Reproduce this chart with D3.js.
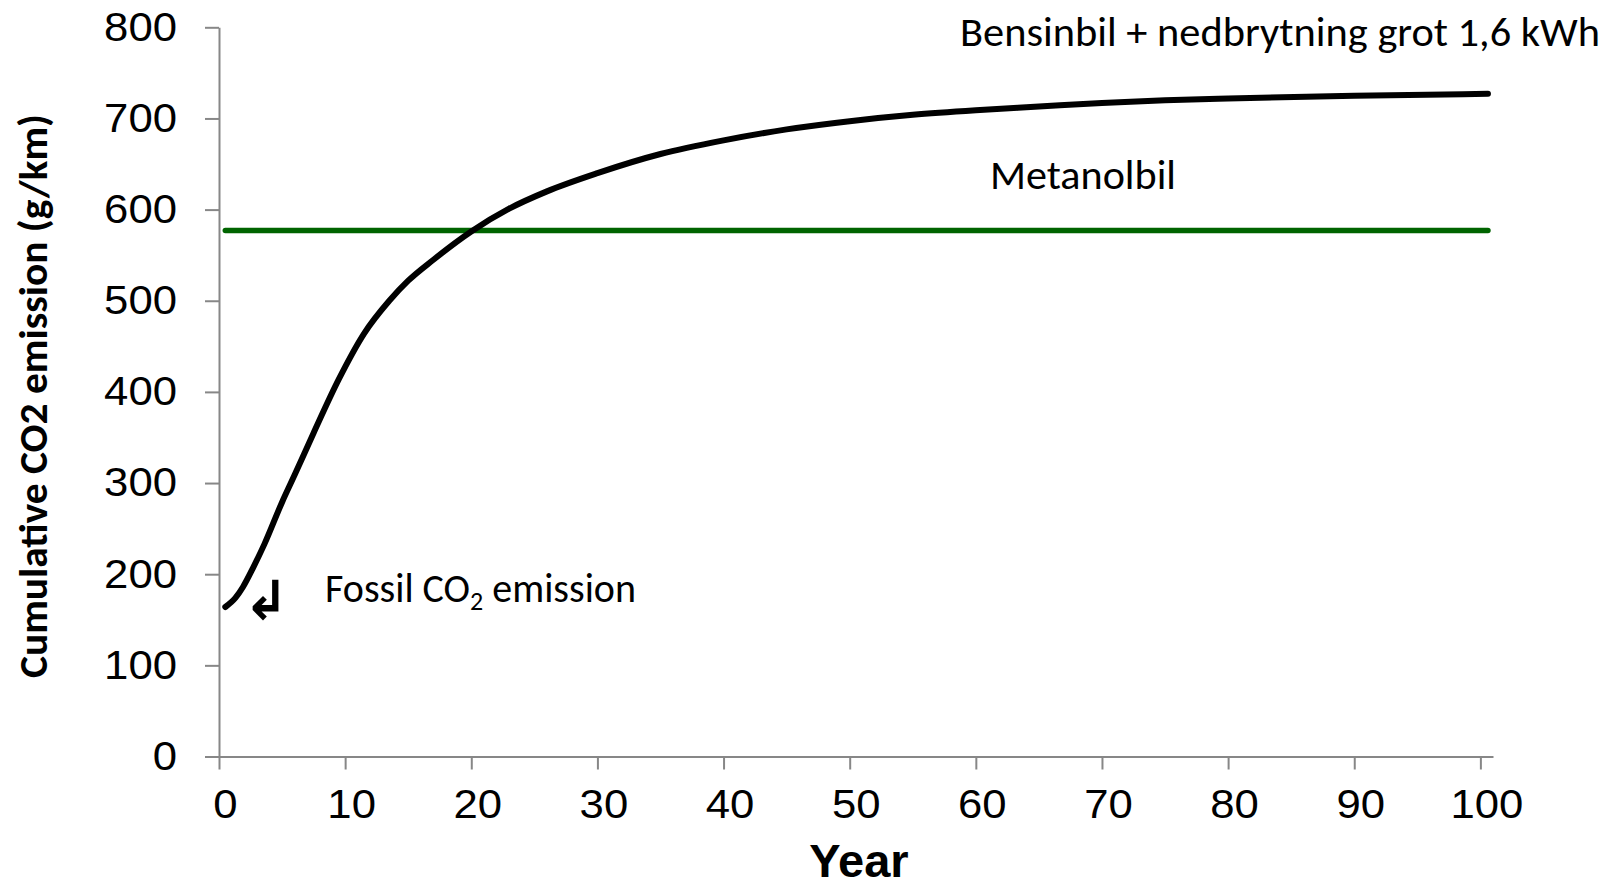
<!DOCTYPE html>
<html lang="sv">
<head>
  <meta charset="UTF-8" />
  <title>Cumulative CO2 emission</title>
  <style>
    body { margin: 0; padding: 0; background: #fff; }
    svg { display: block; }
    .tick text { font-family: "Liberation Sans", Arial, sans-serif; fill: #000; }
    .note { font-family: Carlito, Calibri, Lato, sans-serif; fill: #000; }
  </style>
  <script src="https://d3js.org/d3.v7.min.js"></script>
</head>
<body>
  <svg width="1613" height="886"></svg>

  <script>
    // years and cumulative emission (g/km) for the petrol car + decomposition curve
    const years = [0.5, 1.3, 1.9, 2.7, 3.6, 5, 6, 7.5, 9.5, 11.5, 13.5, 15, 17, 20, 23, 26, 30, 35, 40, 45, 50, 55, 60, 65, 70, 75, 80, 90, 100.6];
    const bensinbil = [164, 174, 186, 207, 233, 279, 309, 355, 414, 464, 500, 522, 545, 576, 601, 620, 640, 661, 676, 688, 697, 704, 709, 713, 717, 720, 722, 725, 727];
    // methanol car is constant
    const metanolYears = [0.5, 100.6];
    const metanolbil = [577, 577];

    const xTicks = [0, 10, 20, 30, 40, 50, 60, 70, 80, 90, 100];
    const yTicks = [0, 100, 200, 300, 400, 500, 600, 700, 800];

    const svg = d3.select("svg");
    const axisColor = "#878787";

    const x = d3.scaleLinear().domain([0, 101]).range([219, 1493]);
    const y = d3.scaleLinear().domain([0, 800]).range([756.5, 27.3]);

    const xAxis = svg.append("g")
      .attr("transform", `translate(0,${y(0)})`)
      .call(d3.axisBottom(x).tickValues(xTicks).tickSizeInner(13).tickSizeOuter(0).tickPadding(20));

    const yAxis = svg.append("g")
      .attr("transform", `translate(${x(0)},0)`)
      .call(d3.axisLeft(y).tickValues(yTicks).tickSizeInner(14).tickSizeOuter(0).tickPadding(28));

    [xAxis, yAxis].forEach(g => {
      g.select(".domain").attr("stroke", axisColor).attr("stroke-width", 2);
      g.selectAll(".tick line").attr("stroke", axisColor).attr("stroke-width", 2);
      g.selectAll(".tick text")
        .attr("font-size", 40)
        .attr("textLength", function () { return this.textContent.length * 24.3; })
        .attr("lengthAdjust", "spacingAndGlyphs");
    });
    // year labels sit a little right of their ticks in the original
    xAxis.selectAll(".tick text").attr("dx", 6);

    const line = d3.line()
      .x(d => x(d[0]))
      .y(d => y(d[1]))
      .curve(d3.curveMonotoneX);

    svg.append("path")
      .datum(metanolYears.map((yr, i) => [yr, metanolbil[i]]))
      .attr("d", line)
      .attr("fill", "none")
      .attr("stroke", "#006400")
      .attr("stroke-width", 5.5)
      .attr("stroke-linecap", "round");

    svg.append("path")
      .datum(years.map((yr, i) => [yr, bensinbil[i]]))
      .attr("d", line)
      .attr("fill", "none")
      .attr("stroke", "#000")
      .attr("stroke-width", 6)
      .attr("stroke-linecap", "round")
      .attr("stroke-linejoin", "round");

    // axis titles
    svg.append("text")
      .attr("x", 859)
      .attr("y", 877)
      .attr("text-anchor", "middle")
      .attr("font-family", "'Liberation Sans', Arial, sans-serif")
      .attr("font-weight", "bold")
      .attr("font-size", 47)
      .text("Year");

    svg.append("text")
      .attr("class", "note")
      .attr("transform", "translate(47,396) rotate(-90)")
      .attr("text-anchor", "middle")
      .attr("font-weight", "bold")
      .attr("font-size", 40)
      .attr("textLength", 564)
      .attr("lengthAdjust", "spacingAndGlyphs")
      .text("Cumulative CO2 emission (g/km)");

    // annotations
    svg.append("text")
      .attr("class", "note")
      .attr("x", 960).attr("y", 46)
      .attr("font-size", 40)
      .attr("textLength", 640)
      .attr("lengthAdjust", "spacingAndGlyphs")
      .text("Bensinbil + nedbrytning grot 1,6 kWh");

    svg.append("text")
      .attr("class", "note")
      .attr("x", 990).attr("y", 189)
      .attr("font-size", 40)
      .attr("textLength", 186)
      .attr("lengthAdjust", "spacingAndGlyphs")
      .text("Metanolbil");

    const fossil = svg.append("text")
      .attr("class", "note")
      .attr("x", 325).attr("y", 602)
      .attr("font-size", 40);
    fossil.append("tspan").text("Fossil CO");
    fossil.append("tspan").attr("font-size", 26).attr("dy", 8).text("2");
    fossil.append("tspan").attr("dy", -8).text(" emission");

    svg.append("text")
      .attr("x", 266).attr("y", 619)
      .attr("text-anchor", "middle")
      .attr("font-family", "'DejaVu Sans', sans-serif")
      .attr("font-weight", "bold")
      .attr("font-size", 54)
      .text("\u21B2");
  </script>
</body>
</html>
